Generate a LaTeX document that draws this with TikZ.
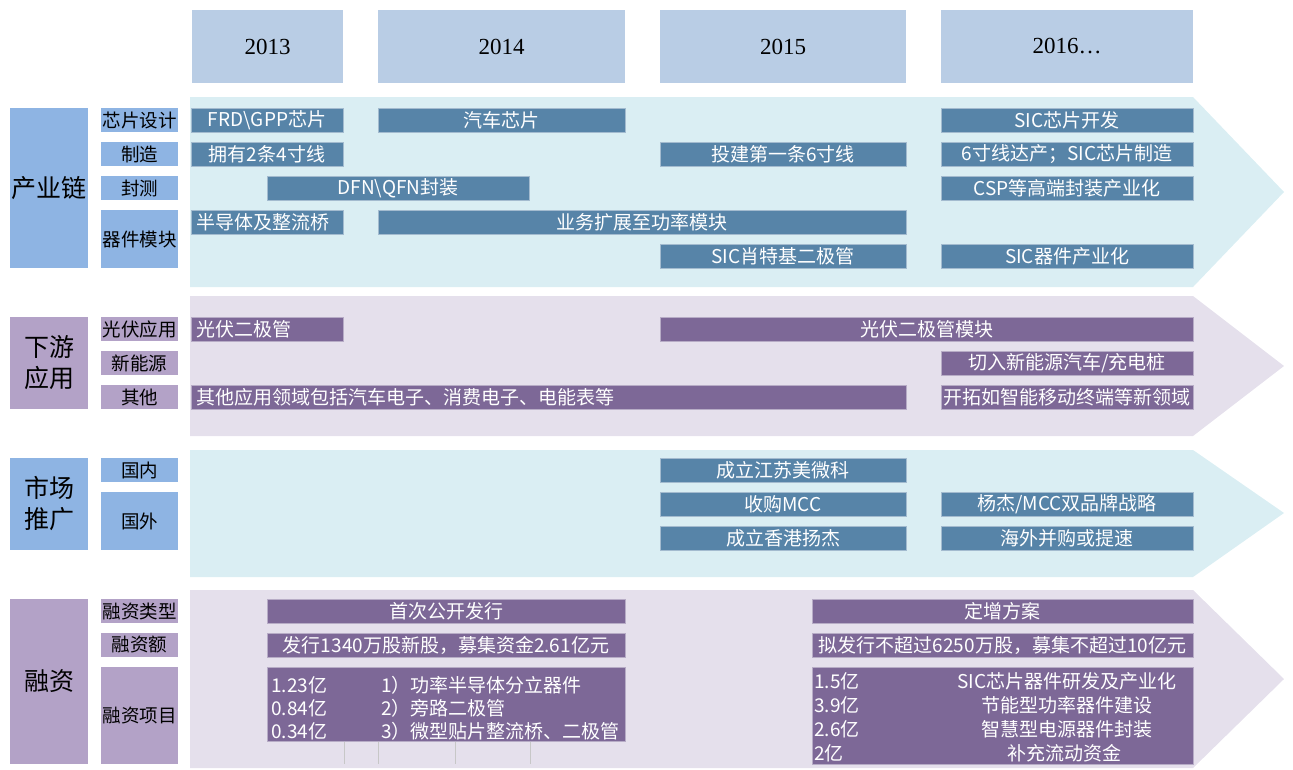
\documentclass[tikz,border=0pt]{standalone}
\usepackage{fontspec}
\setmainfont{Noto Sans CJK SC}
\newfontfamily\yearfont{Liberation Serif}
\definecolor{hdr}{HTML}{B9CDE5}
\definecolor{bandb}{HTML}{DAEEF3}
\definecolor{bandp}{HTML}{E5E0EC}
\definecolor{catb}{HTML}{8EB4E3}
\definecolor{catp}{HTML}{B3A2C7}
\definecolor{barb}{HTML}{5784A8}
\definecolor{barp}{HTML}{7D6897}
\newcommand\mkbox[7]{\pgfmathsetmacro\bw{#5-#3}\pgfmathsetmacro\bh{#6-#4}%
  \node[#1, minimum width=\bw pt, minimum height=\bh pt] (#2) at (#3,#4) {#7};}
\newcommand\mkboxl[7]{\pgfmathsetmacro\bw{#5-#3}\pgfmathsetmacro\bh{#6-#4}\pgfmathsetmacro\tw{#5-#3-10}%
  \node[#1, minimum width=\bw pt, minimum height=\bh pt, text width=\tw pt, align=left] (#2) at (#3,#4) {#7};}
\begin{document}
\begin{tikzpicture}[x=1pt,y=-1pt,
  box/.style={anchor=north west, inner sep=0pt, outer sep=0pt},
  hdrbox/.style={box, fill=hdr, font=\yearfont\fontsize{23}{26}\selectfont},
  catbbox/.style={box, fill=catb, align=center, font=\fontsize{25}{31}\selectfont},
  catpbox/.style={box, fill=catp, align=center, font=\fontsize{25}{31}\selectfont},
  subbbox/.style={box, fill=catb, align=center, font=\fontsize{18.5}{22}\selectfont},
  subpbox/.style={box, fill=catp, align=center, font=\fontsize{18.5}{22}\selectfont},
  barbbox/.style={box, fill=barb, draw=barb!55!white, line width=0.6pt, text=white, font=\fontsize{19}{22}\selectfont},
  barpbox/.style={box, fill=barp, draw=barp!55!white, line width=0.6pt, text=white, font=\fontsize{19}{22}\selectfont},
  rowtxt/.style={anchor=west, inner sep=0pt, text=white, font=\fontsize{19}{22}\selectfont},
  rowctr/.style={anchor=center, inner sep=0pt, text=white, font=\fontsize{19}{22}\selectfont},
  vline/.style={draw=black!22, line width=0.6pt}
]
\useasboundingbox (0,0) rectangle (1293,769);
% bands
\fill[bandb] (190,97) -- (1193,97) -- (1284,192) -- (1193,287) -- (190,287) -- cycle;
\fill[bandp] (190,296) -- (1193,296) -- (1284,366) -- (1193,436) -- (190,436) -- cycle;
\fill[bandb] (190,450) -- (1193,450) -- (1284,513) -- (1193,577) -- (190,577) -- cycle;
\fill[bandp] (190,590) -- (1193,590) -- (1284,679) -- (1193,768) -- (190,768) -- cycle;
% year headers
\mkbox{hdrbox}{y13}{192}{10}{343}{83}{2013}
\mkbox{hdrbox}{y14}{378}{10}{625}{83}{2014}
\mkbox{hdrbox}{y15}{660}{10}{906}{83}{2015}
\mkbox{hdrbox}{y16}{941}{10}{1193}{83}{2016…}
% left categories
\mkbox{catbbox}{cyl}{10}{108}{88}{268}{产业链}
\mkbox{catpbox}{xyyy}{10}{317}{88}{409}{下游\\应用}
\mkbox{catbbox}{sctg}{10}{458}{88}{550}{市场\\推广}
\mkbox{catpbox}{rz}{10}{599}{88}{764}{融资}
% sub categories
\mkbox{subbbox}{xpsj}{101}{108}{178}{132}{芯片设计}
\mkbox{subbbox}{zz}{101}{142}{178}{166}{制造}
\mkbox{subbbox}{fc}{101}{176}{178}{200}{封测}
\mkbox{subbbox}{qjmk}{101}{210}{178}{268}{器件模块}
\mkbox{subpbox}{gfyy}{101}{317}{178}{341}{光伏应用}
\mkbox{subpbox}{xny}{101}{351}{178}{375}{新能源}
\mkbox{subpbox}{qt}{101}{385}{178}{409}{其他}
\mkbox{subbbox}{gn}{101}{458}{178}{482}{国内}
\mkbox{subbbox}{gw}{101}{492}{178}{550}{国外}
\mkbox{subpbox}{rzlx}{101}{599}{178}{623}{融资类型}
\mkbox{subpbox}{rze}{101}{633}{178}{657}{融资额}
\mkbox{subpbox}{rzxm}{101}{667}{178}{764}{融资项目}
% band 1 bars
\mkbox{barbbox}{b1}{191}{108}{343}{132}{FRD\textbackslash GPP芯片}
\mkbox{barbbox}{b2}{191}{142}{343}{166}{拥有2条4寸线}
\mkbox{barbbox}{b3}{267}{176}{529}{200}{DFN\textbackslash QFN封装}
\mkboxl{barbbox}{b4}{191}{210}{343}{234}{半导体及整流桥}
\mkbox{barbbox}{b5}{378}{108}{625}{132}{汽车芯片}
\mkbox{barbbox}{b6}{378}{210}{906}{234}{业务扩展至功率模块}
\mkbox{barbbox}{b7}{660}{142}{906}{166}{投建第一条6寸线}
\mkbox{barbbox}{b8}{660}{244}{906}{268}{SIC肖特基二极管}
\mkbox{barbbox}{b9}{941}{108}{1193}{132}{SIC芯片开发}
\mkbox{barbbox}{b10}{941}{142}{1193}{166}{6寸线达产；SIC芯片制造}
\mkbox{barbbox}{b11}{941}{176}{1193}{200}{CSP等高端封装产业化}
\mkbox{barbbox}{b12}{941}{244}{1193}{268}{SIC器件产业化}
% band 2 bars
\mkboxl{barpbox}{p1}{191}{317}{343}{341}{光伏二极管}
\mkbox{barpbox}{p2}{660}{317}{1193}{341}{光伏二极管模块}
\mkbox{barpbox}{p3}{941}{351}{1193}{375}{切入新能源汽车/充电桩}
\mkboxl{barpbox}{p4}{191}{385}{906}{409}{其他应用领域包括汽车电子、消费电子、电能表等}
\mkbox{barpbox}{p5}{941}{385}{1193}{409}{开拓如智能移动终端等新领域}
% band 3 bars
\mkbox{barbbox}{m1}{660}{458}{906}{482}{成立江苏美微科}
\mkbox{barbbox}{m2}{660}{492}{906}{516}{收购MCC}
\mkbox{barbbox}{m3}{660}{526}{906}{550}{成立香港扬杰}
\mkbox{barbbox}{m4}{941}{492}{1193}{516}{杨杰/MCC双品牌战略}
\mkbox{barbbox}{m5}{941}{526}{1193}{550}{海外并购或提速}
% band 4 bars
\mkbox{barpbox}{f1}{267}{599}{625}{623}{首次公开发行}
\mkbox{barpbox}{f2}{267}{633}{625}{657}{发行1340万股新股，募集资金2.61亿元}
\mkbox{barpbox}{f3}{267}{667}{625}{741}{}
\mkbox{barpbox}{g1}{812}{599}{1193}{623}{定增方案}
\mkbox{barpbox}{g2}{812}{633}{1193}{657}{拟发行不超过6250万股，募集不超过10亿元}
\mkbox{barpbox}{g3}{812}{667}{1193}{764}{}
% rows of left project box
\node[rowtxt] (f3a1) at (271,685) {1.23亿};
\node[rowtxt] (f3a2) at (271,708) {0.84亿};
\node[rowtxt] (f3a3) at (271,731) {0.34亿};
\node[rowtxt] (f3b1) at (381,685) {1）功率半导体分立器件};
\node[rowtxt] (f3b2) at (381,708) {2）旁路二极管};
\node[rowtxt] (f3b3) at (381,731) {3）微型贴片整流桥、二极管};
% rows of right project box
\node[rowtxt] (g3a1) at (814,681) {1.5亿};
\node[rowtxt] (g3a2) at (814,705) {3.9亿};
\node[rowtxt] (g3a3) at (814,729) {2.6亿};
\node[rowtxt] (g3a4) at (814,753) {2亿};
\node[rowctr] (g3b1) at (1067,681) {SIC芯片器件研发及产业化};
\node[rowctr] (g3b2) at (1067,705) {节能型功率器件建设};
\node[rowctr] (g3b3) at (1067,729) {智慧型电源器件封装};
\node[rowctr] (g3b4) at (1064,753) {补充流动资金};
% thin lines below left project box
\draw[vline] (344,742) -- (344,764);
\draw[vline] (378,742) -- (378,764);
\draw[vline] (455,742) -- (455,764);
\draw[vline] (530,742) -- (530,764);
\end{tikzpicture}
\end{document}
